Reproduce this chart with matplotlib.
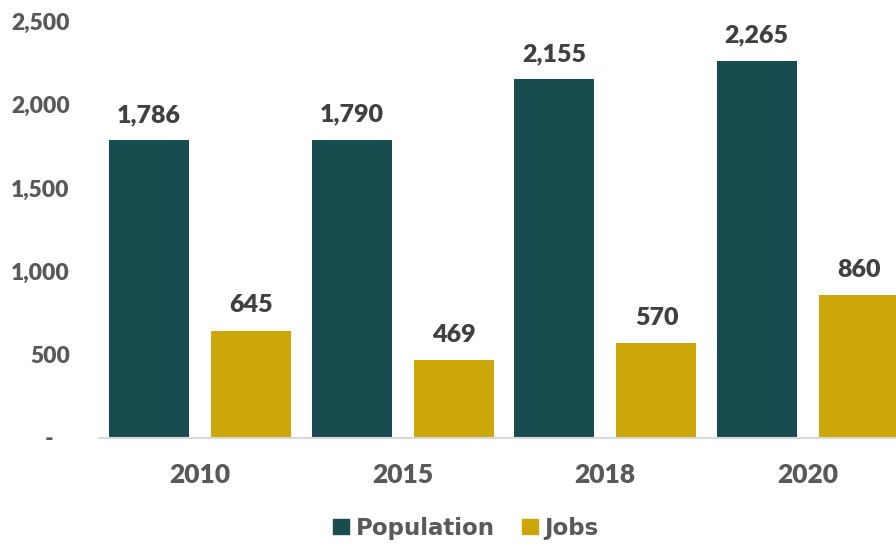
import matplotlib
matplotlib.use("Agg")
import matplotlib.pyplot as plt
from matplotlib.patches import Patch
import numpy as np

years = ["2010", "2015", "2018", "2020"]
population = [1786, 1790, 2155, 2265]
jobs = [645, 469, 570, 860]
series_names = ["Population", "Jobs"]
yticks = [0, 500, 1000, 1500, 2000, 2500]

TEAL = "#194C4F"
GOLD = "#CCA70A"
TICK_C = "#595959"
LABEL_C = "#404040"
NUMW = "heavy"

fig = plt.figure(figsize=(8.96, 5.44), dpi=100)
ax = fig.add_axes([99/896, 1-438/544, 810/896, (438-21.5)/544])

x = np.arange(len(years))
w = 0.395
off = 0.253
b1 = ax.bar(x - off, population, w, color=TEAL, label=series_names[0])
b2 = ax.bar(x + off, jobs, w, color=GOLD, label=series_names[1])

for bars, vals in ((b1, population), (b2, jobs)):
    for rect, v in zip(bars, vals):
        ax.annotate(f"{v:,}", (rect.get_x() + rect.get_width()/2, v),
                    xytext=(0, 13), textcoords="offset points",
                    ha="center", va="baseline", fontsize=18,
                    fontfamily="Lato", fontweight=NUMW, color=LABEL_C)

ax.set_xlim(-0.5, len(years) - 0.5)
ax.set_ylim(0, 2500)
ax.set_xticks(x)
ax.set_xticklabels(years, fontsize=19, fontfamily="Lato", fontweight=NUMW, color=TICK_C)
ax.set_yticks(yticks)
ax.set_yticklabels([f"{t:,}" if t else "-   " for t in yticks],
                   fontsize=16.5, fontfamily="Lato", fontweight=NUMW, color=TICK_C)
ax.tick_params(axis="x", length=0, pad=18)
ax.tick_params(axis="y", length=0, pad=21)
for s in ("top", "right", "left"):
    ax.spines[s].set_visible(False)
ax.spines["bottom"].set_color("#D9D9D9")
ax.spines["bottom"].set_linewidth(1.5)

handles = [Patch(color=TEAL), Patch(color=GOLD)]
fig.legend(handles, series_names, loc="center", bbox_to_anchor=(466/896, 1-528/544),
           ncol=2, frameon=False, handlelength=0.68, handleheight=0.68,
           handletextpad=0.3, columnspacing=1.2, borderaxespad=0, borderpad=0,
           prop={"family": "DejaVu Sans", "weight": "bold", "size": 16.5},
           labelcolor=TICK_C)

fig.savefig("out.png", dpi=100)
